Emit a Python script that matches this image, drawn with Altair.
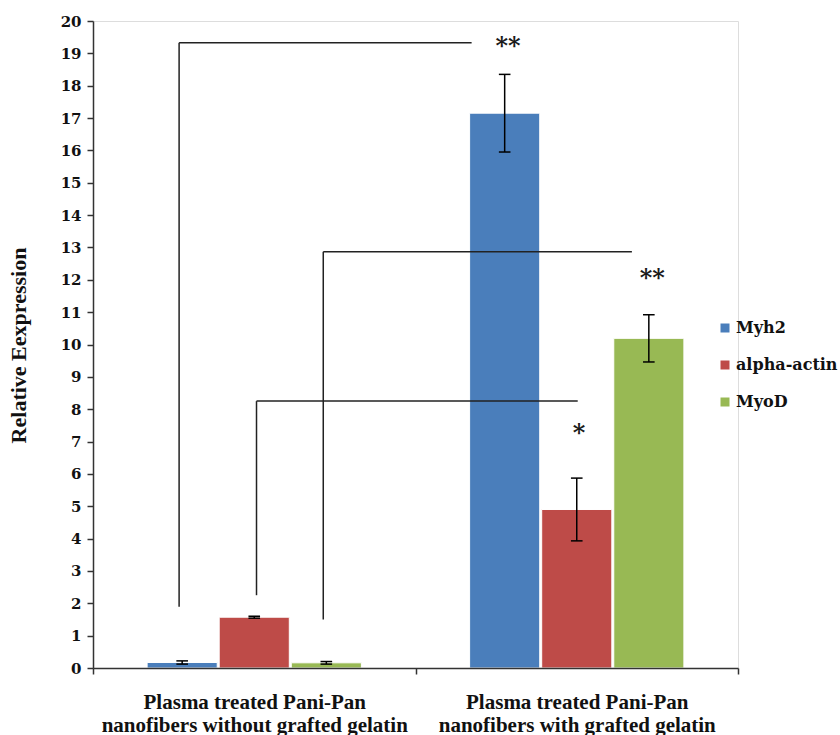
import altair as alt
import pandas as pd

# --- data -------------------------------------------------------------
group_lines = [
    ["Plasma treated Pani-Pan", "nanofibers without grafted gelatin"],
    ["Plasma treated Pani-Pan", "nanofibers with grafted gelatin"],
]
genes = ["Myh2", "alpha-actin", "MyoD"]
gene_colors = ["#4A7EBB", "#BE4B48", "#98B954"]

myh2 = [0.17, 17.15]
alpha_actin = [1.57, 4.90]
myod = [0.16, 10.19]

myh2_err = [0.05, 1.20]
alpha_actin_err = [0.03, 0.97]
myod_err = [0.04, 0.73]

# significance brackets: start x, end x (group units), low / high y
bracket_x0 = [0.267, 0.507, 0.714]
bracket_x1 = [1.174, 1.503, 1.671]
bracket_low = [1.89, 2.25, 1.50]
bracket_high = [19.33, 8.25, 12.87]

star_text = ["**", "*", "**"]
star_x = [1.287, 1.507, 1.734]
star_y = [19.40, 7.44, 12.23]

y_ticks = list(range(0, 21))

# --- layout constants ---------------------------------------------------
BAR_STEP = 0.2235      # distance between bar centres within a group
BAR_HALF = 0.1087      # half bar width
CAP_HALF = 0.018       # half width of error-bar caps
SERIF = "Liberation Serif"
WIDE_SERIF = "DejaVu Serif"
INK = "#222222"

values = [myh2, alpha_actin, myod]
errors = [myh2_err, alpha_actin_err, myod_err]
rows = []
for gi in range(len(group_lines)):
    for si, gene in enumerate(genes):
        xc = gi + 0.5 + (si - 1) * BAR_STEP
        v = values[si][gi]
        e = errors[si][gi]
        rows.append({
            "gene": gene, "xc": xc,
            "x0": xc - BAR_HALF, "x1": xc + BAR_HALF,
            "value": v, "lo": v - e, "hi": v + e,
            "cl": xc - CAP_HALF, "cr": xc + CAP_HALF,
        })
bars = pd.DataFrame(rows)

brackets = pd.DataFrame({
    "x0": bracket_x0, "x1": bracket_x1,
    "low": bracket_low, "high": bracket_high,
})
stars = pd.DataFrame({"text": star_text, "x": star_x, "y": star_y})

# --- scales & axes --------------------------------------------------------
def js_list(items):
    return "[" + ",".join("'" + s + "'" for s in items) + "]"

label_expr = (
    f"datum.value == 0.5 ? {js_list(group_lines[0])} : "
    f"datum.value == 1.5 ? {js_list(group_lines[1])} : ''"
)

x_scale = alt.Scale(domain=[0, 2], nice=False, zero=False)
y_scale = alt.Scale(domain=[0, 20], nice=False)

x_axis = alt.Axis(
    values=[0, 0.5, 1, 1.5, 2], title=None, grid=False,
    labelExpr=label_expr, labelFont=SERIF, labelFontWeight="bold",
    labelFontSize=21, labelLineHeight=23, labelPadding=17,
    labelColor="#111111", labelOverlap=False, labelLimit=600,
    tickSize=6, tickWidth=1.5, tickColor="#333333",
    tickOpacity={"expr": "datum.value % 1 == 0 ? 1 : 0"},
    domainColor="#333333", domainWidth=1.5, zindex=1,
)
y_axis = alt.Axis(
    values=y_ticks, tickCount=len(y_ticks), title="Relative Eexpression",
    grid=False,
    labelFont=WIDE_SERIF, labelFontWeight="bold", labelFontSize=15,
    labelColor="#111111", labelPadding=6, labelOverlap=False,
    tickSize=6, tickWidth=1.5, tickColor="#333333",
    domainColor="#333333", domainWidth=1.5, zindex=1,
    titleFont=SERIF, titleFontWeight="bold", titleFontSize=22,
    titleColor="#111111", titleX=-75, titleY=324, titleBaseline="middle",
)


def X(field):
    return alt.X(field, scale=x_scale, axis=x_axis)


def Y(field):
    return alt.Y(field, scale=y_scale, axis=y_axis)


color = alt.Color(
    "gene:N",
    scale=alt.Scale(domain=genes, range=gene_colors),
    legend=alt.Legend(
        title=None, orient="none", legendX=624, legendY=299,
        symbolType="square", symbolSize=81, symbolStrokeWidth=0,
        labelFont=WIDE_SERIF, labelFontWeight="bold", labelFontSize=16,
        labelColor="#111111", labelOffset=3, rowPadding=21, padding=0,
    ),
)

base = alt.Chart(bars)

shadow = base.mark_bar(color="#bfbfbf", opacity=0.45, xOffset=3).encode(
    x=X("x0:Q"), x2="x1:Q", y=Y("value:Q"), y2=alt.Y2(datum=0),
)

bar_layer = base.mark_bar(stroke="white", strokeWidth=1).encode(
    x=X("x0:Q"), x2="x1:Q", y=Y("value:Q"), y2=alt.Y2(datum=0),
    color=color,
)

err_stem = base.mark_rule(color="black", strokeWidth=1.5).encode(
    x=X("xc:Q"), y=Y("lo:Q"), y2="hi:Q",
)
err_cap_lo = base.mark_rule(color="black", strokeWidth=1.5).encode(
    x=X("cl:Q"), x2="cr:Q", y=Y("lo:Q"),
)
err_cap_hi = base.mark_rule(color="black", strokeWidth=1.5).encode(
    x=X("cl:Q"), x2="cr:Q", y=Y("hi:Q"),
)

bk = alt.Chart(brackets)
bracket_up = bk.mark_rule(color=INK, strokeWidth=1.5).encode(
    x=X("x0:Q"), y=Y("low:Q"), y2="high:Q",
)
bracket_across = bk.mark_rule(color=INK, strokeWidth=1.5).encode(
    x=X("x0:Q"), x2="x1:Q", y=Y("high:Q"),
)

star_layer = alt.Chart(stars).mark_text(
    font=WIDE_SERIF, fontWeight="bold", fontSize=24,
    baseline="middle", align="center", color="#1a1a1a", dy=7,
).encode(x=X("x:Q"), y=Y("y:Q"), text="text:N")

chart = alt.layer(
    shadow, bar_layer, err_stem, err_cap_lo, err_cap_hi,
    bracket_up, bracket_across, star_layer,
).properties(
    width=645, height=647,
    autosize=alt.AutoSizeParams(type="none"),
    padding={"left": 93, "top": 21, "right": 102, "bottom": 67},
).configure_view(stroke=None).configure(background="white")

chart.save("out.html", embed_options={"renderer": "svg", "actions": False})
